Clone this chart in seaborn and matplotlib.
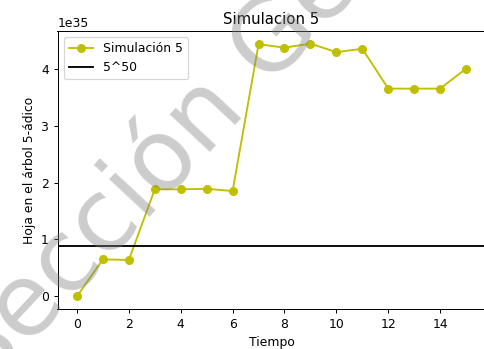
import numpy as np
import pandas as pd
import matplotlib
matplotlib.use("Agg")
import matplotlib.pyplot as plt
import seaborn as sns

tiempo = list(range(16))
hojas = [0.0, 0.65, 0.64, 1.88, 1.88, 1.89, 1.85, 4.43, 4.37, 4.44, 4.29, 4.35, 3.65, 3.65, 3.65, 4.00]
escala = 1e35
umbral = 5.0 ** 50
titulo = "Simulacion 5"
serie = "Simulación 5"
etiqueta_umbral = "5^50"
marca_agua = "Sección Ge"

DPI = 89
W, H = 484, 349
fig = plt.figure(figsize=(W / DPI, H / DPI), dpi=DPI)
ax = fig.add_axes([57.5 / W, 40 / H, 428 / W, 278 / H])

df = pd.DataFrame({"Tiempo": tiempo, "Hoja": [h * escala for h in hojas]})
sns.lineplot(data=df, x="Tiempo", y="Hoja", ax=ax, color="y", marker="o",
             markersize=6.5, markeredgecolor="y", label=serie)
ax.axhline(umbral, color="black", label=etiqueta_umbral)

ax.set_title(titulo)
ax.set_xlabel("Tiempo")
ax.set_ylabel("Hoja en el árbol 5-ádico")
ax.set_xticks(range(0, 16, 2))
ax.legend(loc="upper left")

fig.text(-17 / W, 1 - 395 / H, marca_agua, fontsize=81, color="gray",
         family="DejaVu Sans", alpha=0.4, rotation=47,
         rotation_mode="anchor", ha="left", va="baseline", zorder=10)

fig.savefig("out.png", dpi=DPI)
